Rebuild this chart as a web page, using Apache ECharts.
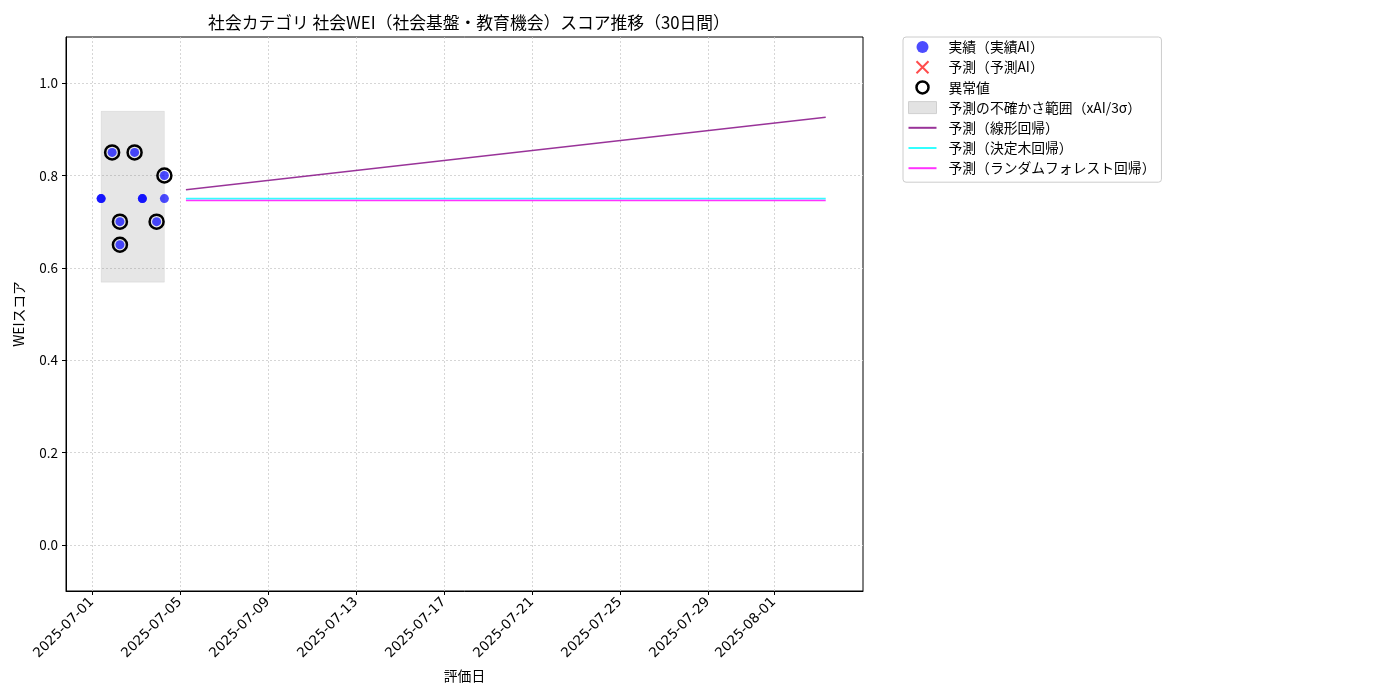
<!DOCTYPE html>
<html>
<head>
<meta charset="utf-8">
<script src="https://cdn.jsdelivr.net/npm/echarts@6/dist/echarts.min.js"></script>
<style>
  html, body { margin: 0; padding: 0; background: #fff; }
  #chart { width: 1400px; height: 700px; }
</style>
</head>
<body>
<div id="chart"></div>
<script>
// 実績（同時刻に重なった点も含む）
const actualDates = [
  '2025-07-01T10:00', '2025-07-01T10:00', '2025-07-01T22:00',
  '2025-07-02T06:30', '2025-07-02T06:30', '2025-07-02T22:30',
  '2025-07-03T07:00', '2025-07-03T07:00', '2025-07-03T22:30',
  '2025-07-04T07:00', '2025-07-04T07:00'
]
const actualScores = [0.75, 0.75, 0.85, 0.70, 0.65, 0.85, 0.75, 0.75, 0.70, 0.80, 0.75]

// 異常値
const anomalyDates = [
  '2025-07-01T22:00', '2025-07-02T06:30', '2025-07-02T06:30',
  '2025-07-02T22:30', '2025-07-03T22:30', '2025-07-04T07:00'
]
const anomalyScores = [0.85, 0.70, 0.65, 0.85, 0.70, 0.80]

// 不確かさ範囲（実績期間）
const bandDates = ['2025-07-01T10:00', '2025-07-04T07:00']
const bandRange = [0.569, 0.939]

// 予測（30日間）始点と終点
const forecastDates = ['2025-07-05T06:30', '2025-08-03T08:30']
const linearScores = [0.769, 0.926]
const treeScores = [0.750, 0.750]
const forestScores = [0.746, 0.746]

const xTickDates = [
  '2025-07-01', '2025-07-05', '2025-07-09', '2025-07-13', '2025-07-17',
  '2025-07-21', '2025-07-25', '2025-07-29', '2025-08-01'
]
const yTicks = [0.0, 0.2, 0.4, 0.6, 0.8, 1.0]

const FONT = '"Noto Sans CJK JP", "DejaVu Sans", sans-serif'
const LINE_ICON = 'path://M0,0H28V2H0Z'

function ts(s) {
  return +echarts.number.parseDate(s)
}
function pairs(dates, values) {
  return dates.map((d, i) => [ts(d), values[i]])
}
function pad(n) {
  return n < 10 ? '0' + n : '' + n
}

const myChart = echarts.init(document.getElementById('chart'))

const option = {
  animation: false,
  backgroundColor: '#fff',
  title: {
    text: '社会カテゴリ 社会WEI（社会基盤・教育機会）スコア推移（30日間）',
    left: 464,
    textAlign: 'center',
    top: 9,
    textStyle: { fontFamily: FONT, fontSize: 16.8, fontWeight: 'normal', color: '#000' }
  },
  legend: {
    orient: 'vertical',
    left: 903,
    top: 37,
    padding: [0, 6, 4, 5],
    itemWidth: 28,
    itemHeight: 12,
    itemGap: 0.2,
    borderColor: '#cccccc',
    borderWidth: 1,
    borderRadius: 3,
    backgroundColor: '#fff',
    textStyle: {
      fontFamily: FONT, fontSize: 13.8, lineHeight: 20, color: '#000', padding: [0, 0, 0, 7]
    },
    data: [
      {
        name: '実績（実績AI）',
        icon: 'circle',
        itemStyle: { color: 'rgba(0,0,255,0.7)', opacity: 1 }
      },
      {
        name: '予測（予測AI）',
        icon: 'path://M0,0L10,10M10,0L0,10',
        itemStyle: { color: 'none', borderColor: 'rgba(255,0,0,0.7)', borderWidth: 2, opacity: 1 }
      },
      {
        name: '異常値',
        icon: 'circle',
        itemStyle: { color: 'none', borderColor: '#000', borderWidth: 2.5, opacity: 1 }
      },
      {
        name: '予測の不確かさ範囲（xAI/3σ）',
        icon: 'rect',
        itemStyle: { color: '#e3e3e3', borderColor: '#d0d0d0', borderWidth: 1 }
      },
      { name: '予測（線形回帰）', icon: LINE_ICON },
      { name: '予測（決定木回帰）', icon: LINE_ICON },
      { name: '予測（ランダムフォレスト回帰）', icon: LINE_ICON }
    ]
  },
  grid: {
    left: 66,
    right: 537,
    top: 37,
    bottom: 109,
    show: true,
    borderColor: '#000',
    borderWidth: 1,
    containLabel: false
  },
  xAxis: {
    type: 'value',
    min: ts('2025-06-29T19:40'),
    max: ts('2025-08-05T01:10'),
    name: '評価日',
    nameLocation: 'middle',
    nameGap: 78,
    nameTextStyle: { fontFamily: FONT, fontSize: 13.8, color: '#000' },
    axisLine: { show: true, onZero: false, lineStyle: { color: '#000' } },
    axisTick: {
      show: true,
      length: 4,
      lineStyle: { color: '#000' },
      customValues: xTickDates.map(ts)
    },
    axisLabel: {
      rotate: 45,
      fontFamily: '"DejaVu Sans", sans-serif',
      fontSize: 13.6,
      color: '#000',
      margin: 9,
      customValues: xTickDates.map(ts),
      formatter: function (v) {
        const d = new Date(v)
        return d.getFullYear() + '-' + pad(d.getMonth() + 1) + '-' + pad(d.getDate())
      }
    },
    splitLine: {
      show: true,
      lineStyle: { color: '#cccccc', type: [2, 2], width: 0.8 }
    }
  },
  yAxis: {
    type: 'value',
    min: -0.1,
    max: 1.1,
    name: 'WEIスコア',
    nameLocation: 'middle',
    nameGap: 40,
    nameTextStyle: { fontFamily: FONT, fontSize: 13.8, color: '#000' },
    axisLine: { show: true, onZero: false, lineStyle: { color: '#000' } },
    axisTick: {
      show: true,
      length: 4,
      lineStyle: { color: '#000' },
      customValues: yTicks
    },
    axisLabel: {
      fontFamily: FONT,
      fontSize: 13.5,
      color: '#000',
      margin: 8,
      customValues: yTicks,
      formatter: function (v) { return v.toFixed(1) }
    },
    splitLine: {
      show: true,
      lineStyle: { color: '#cccccc', type: [2, 2], width: 0.8 }
    }
  },
  series: [
    {
      name: '予測の不確かさ範囲（xAI/3σ）',
      type: 'custom',
      data: [[ts(bandDates[0]), ts(bandDates[1]), bandRange[0], bandRange[1]]],
      encode: { x: [0, 1], y: [2, 3] },
      z: 1,
      renderItem: function (params, api) {
        const p0 = api.coord([api.value(0), api.value(3)])
        const p1 = api.coord([api.value(1), api.value(2)])
        return {
          type: 'rect',
          shape: { x: p0[0], y: p0[1], width: p1[0] - p0[0], height: p1[1] - p0[1] },
          style: { fill: 'rgba(128,128,128,0.2)', stroke: 'rgba(128,128,128,0.12)', lineWidth: 1 }
        }
      }
    },
    {
      name: '予測（線形回帰）',
      type: 'line',
      symbol: 'none',
      data: pairs(forecastDates, linearScores),
      lineStyle: { color: 'rgba(128,0,128,0.8)', width: 1.6 },
      itemStyle: { color: 'rgba(128,0,128,0.8)' },
      z: 2
    },
    {
      name: '予測（決定木回帰）',
      type: 'line',
      symbol: 'none',
      data: pairs(forecastDates, treeScores),
      lineStyle: { color: 'rgba(0,255,255,0.8)', width: 1.6 },
      itemStyle: { color: 'rgba(0,255,255,0.8)' },
      z: 2
    },
    {
      name: '予測（ランダムフォレスト回帰）',
      type: 'line',
      symbol: 'none',
      data: pairs(forecastDates, forestScores),
      lineStyle: { color: 'rgba(255,0,255,0.8)', width: 1.6 },
      itemStyle: { color: 'rgba(255,0,255,0.8)' },
      z: 2
    },
    {
      name: '実績（実績AI）',
      type: 'scatter',
      symbolSize: 9,
      data: pairs(actualDates, actualScores),
      itemStyle: { color: 'rgba(0,0,255,0.7)', opacity: 1 },
      z: 3
    },
    {
      name: '予測（予測AI）',
      type: 'scatter',
      symbol: 'path://M0,0L10,10M10,0L0,10',
      data: [],
      itemStyle: { color: 'none', borderColor: 'rgba(255,0,0,0.7)', borderWidth: 2, opacity: 1 }
    },
    {
      name: '異常値',
      type: 'scatter',
      symbolSize: 14,
      data: pairs(anomalyDates, anomalyScores),
      itemStyle: { color: 'none', borderColor: '#000', borderWidth: 2.5, opacity: 1 },
      z: 4
    }
  ]
}

myChart.setOption(option)
</script>
</body>
</html>
